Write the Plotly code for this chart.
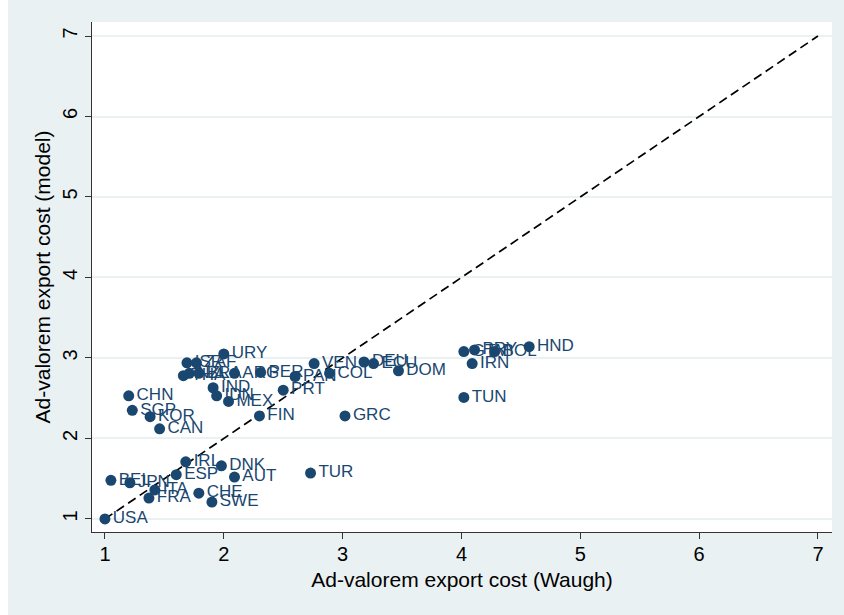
import plotly.graph_objects as go

# Country codes and ad-valorem export costs: Waugh estimate (x) vs. model (y)
countries = ["USA", "BEL", "JPN", "ITA", "FRA", "ESP", "IRL", "DNK", "AUT", "CHE",
             "SWE", "CHN", "SGP", "KOR", "CAN", "URY", "ISR", "ZAF", "THA", "NZL",
             "BRA", "ARG", "PER", "PAN", "COL", "VEN", "PRT", "IND", "IDN", "MEX",
             "FIN", "DEU", "ECU", "DOM", "GRC", "GTM", "PRY", "BOL", "HND", "IRN",
             "TUN", "TUR"]
waugh = [1.00, 1.05, 1.21, 1.42, 1.37, 1.60, 1.68, 1.98, 2.09, 1.79,
         1.90, 1.20, 1.23, 1.38, 1.46, 2.00, 1.69, 1.77, 1.66, 1.71,
         1.79, 2.09, 2.31, 2.60, 2.89, 2.76, 2.50, 1.91, 1.94, 2.04,
         2.30, 3.18, 3.26, 3.47, 3.02, 4.02, 4.11, 4.28, 4.57, 4.09,
         4.02, 2.73]
model = [1.00, 1.48, 1.45, 1.36, 1.26, 1.55, 1.71, 1.66, 1.52, 1.32,
         1.21, 2.53, 2.35, 2.27, 2.12, 3.05, 2.94, 2.94, 2.78, 2.81,
         2.81, 2.81, 2.82, 2.77, 2.81, 2.93, 2.60, 2.63, 2.53, 2.46,
         2.28, 2.95, 2.93, 2.84, 2.28, 3.08, 3.10, 3.08, 3.14, 2.93,
         2.51, 1.57]

diag = [1, 7]
x_ticks = [1, 2, 3, 4, 5, 6, 7]
y_ticks = [1, 2, 3, 4, 5, 6, 7]

navy = "#1A476F"
bg = "#EAF1F3"
font_family = "Liberation Sans, Arial, Helvetica, sans-serif"

fig = go.Figure()

# 45-degree reference line
fig.add_trace(go.Scatter(
    x=diag, y=diag, mode="lines",
    line=dict(color="black", width=1.7, dash="9px,5px"),
    hoverinfo="skip", showlegend=False,
))

fig.add_trace(go.Scatter(
    x=waugh, y=model, mode="markers+text",
    text=countries, textposition="middle right",
    textfont=dict(family=font_family, size=17, color=navy),
    marker=dict(color=navy, size=11, line=dict(width=0)),
    showlegend=False,
))

tick_font = dict(family=font_family, size=20, color="black")
title_font = dict(family=font_family, size=21, color="black")

fig.update_layout(
    width=844, height=615,
    margin=dict(l=92, r=12, t=22, b=83),
    paper_bgcolor=bg,
    plot_bgcolor="white",
    showlegend=False,
    xaxis=dict(
        range=[0.891, 7.118], tickvals=x_ticks, ticktext=[str(v) for v in x_ticks],
        showgrid=False, zeroline=False,
        showline=True, linecolor="#333333", linewidth=1.2,
        ticks="outside", ticklen=6, tickcolor="#333333",
        tickfont=tick_font, ticklabelstandoff=-2,
        title=dict(text="Ad-valorem export cost (Waugh)", font=title_font, standoff=8),
    ),
    yaxis=dict(
        range=[0.838, 7.174], tickvals=y_ticks, ticktext=[str(v) for v in y_ticks],
        showgrid=True, gridcolor=bg, gridwidth=1.5, zeroline=False,
        showline=True, linecolor="#333333", linewidth=1.2,
        ticks="outside", ticklen=6, tickcolor="#333333",
        tickangle=-90, tickfont=tick_font,
        title=dict(text="Ad-valorem export cost (model)", font=title_font, standoff=2),
    ),
    shapes=[dict(type="rect", xref="paper", yref="paper",
                 x0=-0.2, x1=-0.1135, y0=-0.5, y1=1.5,
                 fillcolor="white", line=dict(width=0), layer="below")],
)

fig.write_html("out.html")
